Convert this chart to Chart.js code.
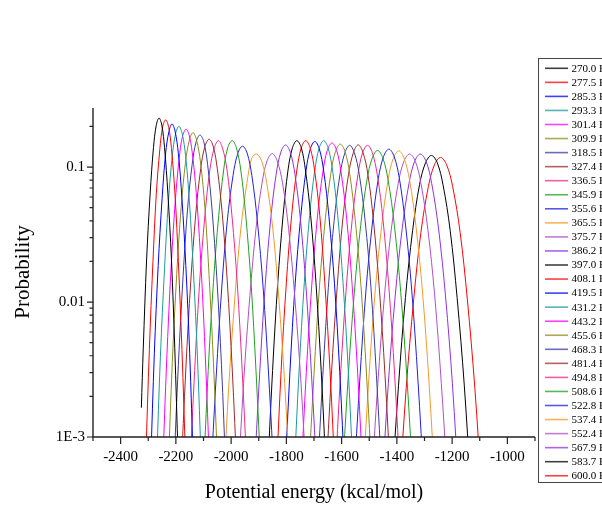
<!DOCTYPE html>
<html>
<head>
<meta charset="utf-8">
<script src="https://cdn.jsdelivr.net/npm/chart.js@4.4.1/dist/chart.umd.min.js"></script>
<style>
html, body { margin: 0; padding: 0; background: #fff; }
#wrap { width: 602px; height: 506px; }
</style>
</head>
<body>
<div id="wrap"><canvas id="myChart" width="602" height="506"></canvas></div>
<script>
// Replica temperatures (K)
const temperatures = [270.0, 277.5, 285.3, 293.3, 301.4, 309.9, 318.5, 327.4, 336.5, 345.9,
    355.6, 365.5, 375.7, 386.2, 397.0, 408.1, 419.5, 431.2, 443.2, 455.6,
    468.3, 481.4, 494.8, 508.6, 522.8, 537.4, 552.4, 567.9, 583.7, 600.0];

// Potential energy (kcal/mol) for each histogram
const energies = [
    [-2325, -2318, -2306, -2293, -2281, -2271, -2261, -2251, -2241, -2229, -2216, -2204, -2192], // 270.0
    [-2309, -2296, -2283, -2271, -2258, -2248, -2237, -2226, -2216, -2203, -2191, -2178, -2165], // 277.5
    [-2291, -2278, -2264, -2250, -2237, -2225, -2214, -2203, -2191, -2178, -2164, -2150, -2137], // 285.3
    [-2270, -2256, -2241, -2227, -2213, -2201, -2189, -2177, -2165, -2151, -2137, -2122, -2108], // 293.3
    [-2248, -2233, -2218, -2203, -2188, -2176, -2163, -2151, -2138, -2123, -2108, -2093, -2078], // 301.4
    [-2228, -2213, -2197, -2181, -2165, -2151, -2138, -2125, -2111, -2095, -2080, -2064, -2048], // 309.9
    [-2208, -2191, -2174, -2158, -2141, -2127, -2113, -2099, -2085, -2069, -2052, -2035, -2019], // 318.5
    [-2182, -2164, -2146, -2128, -2110, -2095, -2080, -2065, -2050, -2032, -2014, -1996, -1978], // 327.4
    [-2151, -2132, -2114, -2095, -2077, -2061, -2046, -2031, -2015, -1997, -1978, -1960, -1941], // 336.5
    [-2101, -2083, -2064, -2045, -2027, -2012, -1996, -1981, -1965, -1947, -1928, -1910, -1891], // 345.9
    [-2075, -2054, -2034, -2014, -1993, -1976, -1959, -1942, -1925, -1905, -1884, -1864, -1843], // 355.6
    [-2029, -2008, -1986, -1965, -1943, -1925, -1907, -1889, -1871, -1849, -1828, -1806, -1785], // 365.5
    [-1977, -1955, -1932, -1910, -1888, -1870, -1851, -1833, -1814, -1792, -1770, -1747, -1725], // 375.7
    [-1918, -1897, -1877, -1857, -1837, -1820, -1803, -1786, -1769, -1749, -1729, -1709, -1688], // 386.2
    [-1869, -1850, -1831, -1812, -1794, -1778, -1762, -1746, -1731, -1712, -1693, -1674, -1655], // 397.0
    [-1837, -1819, -1800, -1781, -1762, -1746, -1730, -1714, -1698, -1679, -1661, -1642, -1623], // 408.1
    [-1806, -1787, -1768, -1748, -1729, -1713, -1697, -1681, -1665, -1646, -1626, -1607, -1588], // 419.5
    [-1773, -1754, -1735, -1716, -1697, -1681, -1665, -1649, -1633, -1614, -1595, -1576, -1557], // 431.2
    [-1748, -1728, -1708, -1688, -1668, -1652, -1635, -1618, -1602, -1582, -1562, -1542, -1522], // 443.2
    [-1721, -1700, -1680, -1659, -1639, -1622, -1605, -1588, -1571, -1551, -1530, -1510, -1489], // 455.6
    [-1689, -1668, -1648, -1627, -1606, -1588, -1571, -1554, -1536, -1515, -1494, -1474, -1453], // 468.3
    [-1658, -1637, -1616, -1596, -1575, -1557, -1540, -1523, -1505, -1485, -1464, -1443, -1422], // 481.4
    [-1625, -1604, -1583, -1562, -1541, -1524, -1506, -1489, -1471, -1450, -1429, -1408, -1387], // 494.8
    [-1600, -1577, -1554, -1531, -1508, -1489, -1470, -1451, -1432, -1409, -1386, -1363, -1340], // 508.6
    [-1557, -1534, -1512, -1489, -1467, -1448, -1429, -1410, -1391, -1369, -1346, -1324, -1301], // 522.8
    [-1525, -1502, -1479, -1455, -1432, -1413, -1393, -1374, -1354, -1331, -1307, -1284, -1261], // 537.4
    [-1494, -1469, -1445, -1420, -1395, -1375, -1354, -1333, -1313, -1288, -1263, -1239, -1214], // 552.4
    [-1455, -1431, -1406, -1381, -1356, -1336, -1315, -1294, -1274, -1249, -1224, -1199, -1175], // 567.9
    [-1420, -1394, -1369, -1343, -1318, -1296, -1275, -1254, -1233, -1207, -1182, -1156, -1131], // 583.7
    [-1392, -1366, -1339, -1313, -1286, -1264, -1242, -1220, -1198, -1171, -1145, -1118, -1092]  // 600.0
];

// Probability at each of those energies
const probabilities = [
    [0.00165, 0.00457, 0.0205, 0.0642, 0.140, 0.204, 0.231, 0.205, 0.139, 0.0640, 0.0206, 0.00455, 0.000714],
    [0.000692, 0.00444, 0.0199, 0.0623, 0.136, 0.198, 0.224, 0.197, 0.137, 0.0620, 0.0199, 0.00444, 0.000692],
    [0.000646, 0.00414, 0.0186, 0.0581, 0.127, 0.184, 0.209, 0.185, 0.126, 0.0583, 0.0186, 0.00414, 0.000646],
    [0.000618, 0.00396, 0.0178, 0.0556, 0.121, 0.177, 0.200, 0.176, 0.122, 0.0556, 0.0177, 0.00396, 0.000618],
    [0.000590, 0.00378, 0.0170, 0.0531, 0.116, 0.169, 0.191, 0.170, 0.115, 0.0531, 0.0170, 0.00378, 0.000590],
    [0.000556, 0.00356, 0.0160, 0.0500, 0.109, 0.159, 0.180, 0.158, 0.109, 0.0502, 0.0160, 0.00356, 0.000556],
    [0.000535, 0.00343, 0.0154, 0.0481, 0.105, 0.153, 0.173, 0.154, 0.104, 0.0481, 0.0154, 0.00343, 0.000535],
    [0.000497, 0.00319, 0.0143, 0.0448, 0.0976, 0.142, 0.161, 0.143, 0.0970, 0.0448, 0.0143, 0.00319, 0.000497],
    [0.000485, 0.00311, 0.0140, 0.0436, 0.0952, 0.139, 0.157, 0.138, 0.0955, 0.0436, 0.0140, 0.00311, 0.000485],
    [0.000485, 0.00311, 0.0140, 0.0436, 0.0952, 0.140, 0.157, 0.139, 0.0950, 0.0436, 0.0140, 0.00311, 0.000485],
    [0.000442, 0.00283, 0.0127, 0.0398, 0.0867, 0.126, 0.143, 0.127, 0.0865, 0.0398, 0.0127, 0.00283, 0.000442],
    [0.000386, 0.00248, 0.0111, 0.0348, 0.0758, 0.117, 0.125, 0.110, 0.0758, 0.0348, 0.0111, 0.00248, 0.000386],
    [0.000389, 0.00249, 0.0112, 0.0350, 0.0764, 0.111, 0.126, 0.111, 0.0764, 0.0350, 0.0112, 0.00249, 0.000389],
    [0.000451, 0.00289, 0.0130, 0.0406, 0.0885, 0.129, 0.146, 0.129, 0.0885, 0.0406, 0.0130, 0.00289, 0.000451],
    [0.000485, 0.00311, 0.0140, 0.0436, 0.0952, 0.139, 0.157, 0.139, 0.0952, 0.0436, 0.0140, 0.00311, 0.000485],
    [0.000485, 0.00311, 0.0140, 0.0436, 0.0952, 0.139, 0.157, 0.139, 0.0950, 0.0436, 0.0140, 0.00311, 0.000485],
    [0.000479, 0.00307, 0.0138, 0.0431, 0.0940, 0.137, 0.155, 0.137, 0.0940, 0.0431, 0.0138, 0.00307, 0.000479],
    [0.000485, 0.00311, 0.0140, 0.0436, 0.0952, 0.139, 0.157, 0.139, 0.0952, 0.0436, 0.0140, 0.00311, 0.000485],
    [0.000467, 0.00299, 0.0134, 0.0420, 0.0916, 0.133, 0.151, 0.133, 0.0916, 0.0420, 0.0134, 0.00299, 0.000467],
    [0.000457, 0.00293, 0.0132, 0.0411, 0.0898, 0.131, 0.148, 0.131, 0.0898, 0.0411, 0.0132, 0.00293, 0.000457],
    [0.000448, 0.00287, 0.0129, 0.0403, 0.0879, 0.128, 0.145, 0.128, 0.0879, 0.0403, 0.0129, 0.00287, 0.000448],
    [0.000451, 0.00289, 0.0130, 0.0406, 0.0885, 0.129, 0.146, 0.129, 0.0885, 0.0406, 0.0130, 0.00289, 0.000451],
    [0.000448, 0.00287, 0.0129, 0.0403, 0.0879, 0.128, 0.145, 0.128, 0.0879, 0.0403, 0.0129, 0.00287, 0.000448],
    [0.000411, 0.00263, 0.0118, 0.0370, 0.0807, 0.117, 0.133, 0.117, 0.0807, 0.0370, 0.0118, 0.00263, 0.000411],
    [0.000420, 0.00269, 0.0121, 0.0378, 0.0825, 0.120, 0.136, 0.120, 0.0825, 0.0378, 0.0121, 0.00269, 0.000420],
    [0.000408, 0.00261, 0.0117, 0.0367, 0.0801, 0.116, 0.132, 0.116, 0.0801, 0.0367, 0.0117, 0.00261, 0.000408],
    [0.000386, 0.00248, 0.0111, 0.0348, 0.0758, 0.110, 0.125, 0.110, 0.0758, 0.0348, 0.0111, 0.00248, 0.000386],
    [0.000386, 0.00248, 0.0111, 0.0348, 0.0758, 0.110, 0.125, 0.110, 0.0758, 0.0348, 0.0111, 0.00248, 0.000386],
    [0.000377, 0.00242, 0.0108, 0.0339, 0.0740, 0.108, 0.122, 0.108, 0.0740, 0.0339, 0.0108, 0.00242, 0.000377],
    [0.000365, 0.00234, 0.0105, 0.0328, 0.0716, 0.104, 0.118, 0.104, 0.0716, 0.0328, 0.0105, 0.00234, 0.000365]
];

// colour cycle (14 colours, repeats)
const colors = ['#000000', '#FF0000', '#0000FF', '#1E9A9A', '#FF00FF', '#8C8C1E', '#3C3CA0',
    '#A02828', '#F0288C', '#20A020', '#2020E0', '#F59A2A', '#B050C8', '#9030E0'];

const xTickLabels = [-2400, -2200, -2000, -1800, -1600, -1400, -1200, -1000];
const yTickValues = [0.001, 0.01, 0.1];
const yTickText = ['1E-3', '0.01', '0.1'];

const serif = '"Liberation Serif", "Times New Roman", serif';

// draws axis lines, tick marks, axis titles and the boxed legend
const framePlugin = {
    id: 'framePlugin',
    afterDraw(chart) {
        const ctx = chart.ctx;
        const area = chart.chartArea;
        const xs = chart.scales.x;
        const ys = chart.scales.y;
        ctx.save();
        ctx.strokeStyle = '#222';
        ctx.lineWidth = 1.4;
        ctx.beginPath();
        ctx.moveTo(area.left, area.top);
        ctx.lineTo(area.left, area.bottom);
        ctx.lineTo(area.right, area.bottom);
        ctx.stroke();

        ctx.lineWidth = 1.2;
        ctx.beginPath();
        for (let v = xs.min; v <= xs.max; v += 100) {
            let px = xs.getPixelForValue(v);
            let len = xTickLabels.includes(v) ? 7 : 4;
            ctx.moveTo(px, area.bottom);
            ctx.lineTo(px, area.bottom + len);
        }
        for (let d = 0.001; d < 1; d *= 10) {
            for (let m = 1; m <= 9; m++) {
                let v = d * m;
                if (v > ys.max * 1.0001) break;
                let py = ys.getPixelForValue(v);
                let len = m === 1 ? 6 : 3.5;
                ctx.moveTo(area.left, py);
                ctx.lineTo(area.left - len, py);
            }
        }
        ctx.stroke();

        // axis titles
        ctx.fillStyle = '#000';
        ctx.font = '20px ' + serif;
        ctx.textAlign = 'center';
        ctx.textBaseline = 'middle';
        ctx.fillText('Potential energy (kcal/mol)', (area.left + area.right) / 2, 493);
        ctx.save();
        ctx.translate(23, 272);
        ctx.rotate(-Math.PI / 2);
        ctx.font = '21px ' + serif;
        ctx.fillText('Probability', 0, 0);
        ctx.restore();

        // legend
        ctx.strokeStyle = '#444';
        ctx.lineWidth = 1;
        ctx.strokeRect(538.5, 58.5, 80, 424);
        ctx.font = '11px ' + serif;
        ctx.textAlign = 'left';
        chart.data.datasets.forEach(function(ds, i) {
            let y = 68.3 + i * 14.05;
            ctx.strokeStyle = ds.borderColor;
            ctx.globalAlpha = 0.75;
            ctx.lineWidth = 1.6;
            ctx.beginPath();
            ctx.moveTo(545, y);
            ctx.lineTo(568, y);
            ctx.stroke();
            ctx.globalAlpha = 1;
            ctx.fillStyle = '#000';
            ctx.fillText(ds.label, 571.5, y + 0.5);
        });
        ctx.restore();
    }
};

function buildDatasets() {
    let result = [];
    for (let i = 0; i < temperatures.length; i++) {
        let pts = [];
        for (let j = 0; j < energies[i].length; j++) {
            pts.push({ x: energies[i][j], y: probabilities[i][j] });
        }
        result.push({
            label: temperatures[i].toFixed(1) + ' K',
            data: pts,
            borderColor: colors[i % colors.length],
            borderWidth: 1,
            pointRadius: 0,
            tension: 0.35,
            fill: false
        });
    }
    return result;
}

const config = {
    type: 'line',
    data: { datasets: buildDatasets() },
    plugins: [framePlugin],
    options: {
        responsive: false,
        animation: false,
        devicePixelRatio: 1,
        layout: { padding: { top: 108, right: 67, left: 0, bottom: 0 } },
        plugins: {
            legend: { display: false },
            tooltip: { enabled: false }
        },
        scales: {
            x: {
                type: 'linear',
                min: -2500,
                max: -900,
                grid: { display: false, drawTicks: false },
                border: { display: false },
                afterBuildTicks: function(scale) {
                    scale.ticks = xTickLabels.map(v => ({ value: v }));
                },
                afterFit: function(scale) { scale.height = 69; },
                ticks: {
                    autoSkip: false,
                    maxRotation: 0,
                    padding: 11,
                    color: '#000',
                    font: { family: serif, size: 15 },
                    callback: v => String(v)
                }
            },
            y: {
                type: 'logarithmic',
                min: 0.001,
                max: 0.274,
                grid: { display: false, drawTicks: false },
                border: { display: false },
                afterBuildTicks: function(scale) {
                    scale.ticks = yTickValues.map(v => ({ value: v }));
                },
                afterFit: function(scale) { scale.width = 93; },
                ticks: {
                    autoSkip: false,
                    padding: 8,
                    color: '#000',
                    font: { family: serif, size: 15 },
                    callback: function(v) {
                        let k = yTickValues.findIndex(t => Math.abs(t - v) / t < 1e-6);
                        return k >= 0 ? yTickText[k] : '';
                    }
                }
            }
        }
    }
};

new Chart(document.getElementById('myChart'), config);
</script>
</body>
</html>
